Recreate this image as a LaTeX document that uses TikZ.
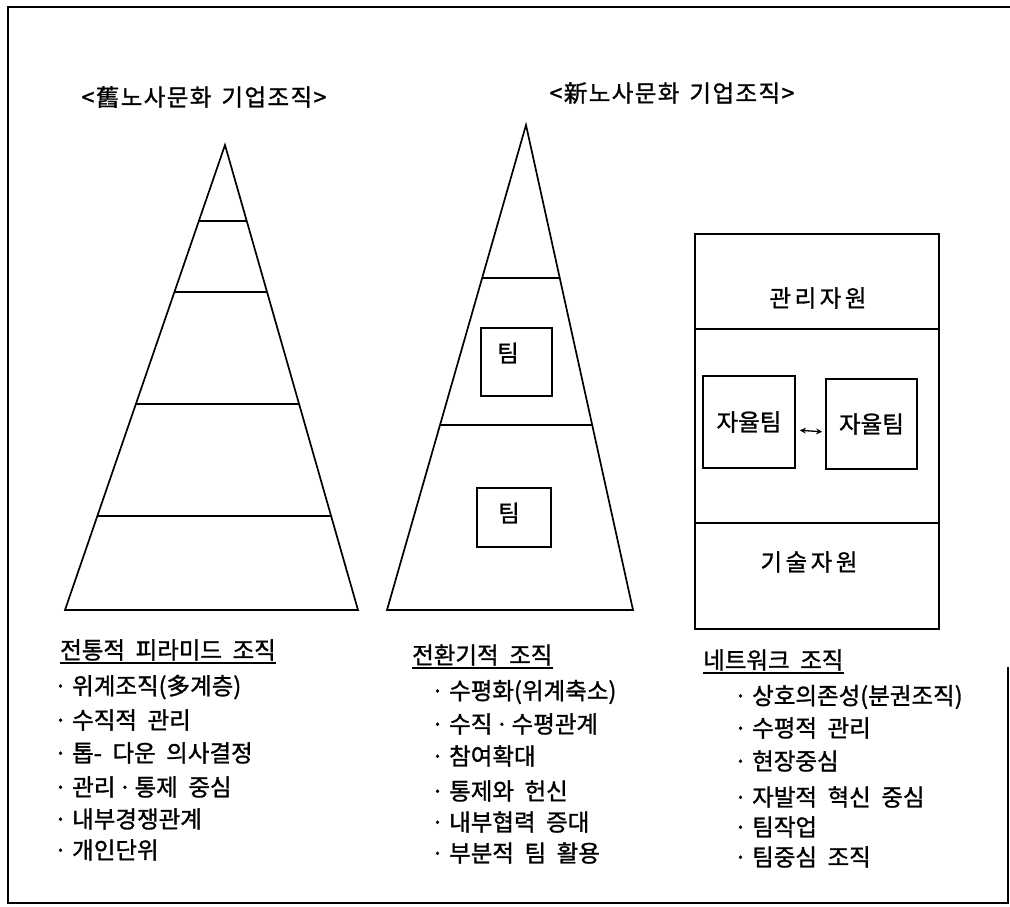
\documentclass[tikz,border=0pt]{standalone}
\usepackage{fontspec}
\setmainfont[WordSpace=2,FakeBold=1.2]{Noto Sans CJK KR}
\newfontfamily\widefont[LetterSpace=15,WordSpace=2,FakeBold=1.2]{Noto Sans CJK KR}
\newfontfamily\titlefont[LetterSpace=6,WordSpace=2,FakeBold=1.2]{Noto Sans CJK KR}
\usetikzlibrary{calc,arrows.meta}
\begin{document}
\begin{tikzpicture}[x=1pt,y=-1pt,
  every node/.style={inner sep=0pt, font=\fontsize{23.5}{27}\selectfont},
  pyr/.style={line width=1.7pt, line join=miter},
  tbox/.style={draw, line width=1.7pt},
  item/.style={anchor=west},
  uline/.style={line width=1.4pt}
]
\useasboundingbox (0,0) rectangle (1010,907);

% outer frame
\draw[line width=2.6pt] (1008,667) -- (1008,903) -- (8,903) -- (8,7) -- (1010,7);

% titles
\node (t1) at (204,97) {\titlefont <舊노사문화\hspace{10pt}기업조직>};
\node (t2) at (672,93) {\titlefont <新노사문화\hspace{10pt}기업조직>};

% pyramid 1
\coordinate (a1) at (225,145);
\coordinate (l1) at (65,610);
\coordinate (r1) at (358,610);
\draw[pyr] (a1) -- (l1) -- (r1) -- cycle;
\foreach \t in {0.1634,0.3161,0.557,0.7978}{
  \draw[pyr] ($(a1)!\t!(l1)$) -- ($(a1)!\t!(r1)$);
}

% pyramid 2
\coordinate (a2) at (526,125);
\coordinate (l2) at (387,610);
\coordinate (r2) at (633,610);
\draw[pyr] (a2) -- (l2) -- (r2) -- cycle;
\foreach \t in {0.3155,0.6186}{
  \draw[pyr] ($(a2)!\t!(l2)$) -- ($(a2)!\t!(r2)$);
}
\node[tbox, minimum width=71pt, minimum height=68pt] (pb1) at (516.5,362) {};
\node (pb1l) at (508,353) {팀};
\node[tbox, minimum width=74pt, minimum height=59pt] (pb2) at (514,517.5) {};
\node (pb2l) at (509,513) {팀};

% network box
\node[tbox, minimum width=244pt, minimum height=395pt, anchor=north west] (net) at (694,233) {};
\draw[tbox] ($(net.north west)+(0,96)$) coordinate (n1) -- (n1 -| net.east);
\draw[tbox] ($(net.north west)+(0,290)$) coordinate (n2) -- (n2 -| net.east);
\node (mg) at (818,298) {\widefont 관리자원};
\node (tc) at (809,562) {\widefont 기술자원};
\node[tbox, minimum width=92pt, minimum height=92pt] (at1) at (749,422) {\raisebox{-7pt}{자율팀}};
\node[tbox, minimum width=91pt, minimum height=90pt] (at2) at (871.5,424) {\raisebox{-6pt}{자율팀}};
\draw[{Stealth[length=6pt,width=6pt]}-{Stealth[length=6pt,width=6pt]}, line width=1.3pt, shorten <=4pt, shorten >=3pt]
  ([yshift=-8pt]at1.east) -- ([yshift=-8pt]at2.west);

% column 1
\node[item] (c1h) at (60,650) {전통적 피라미드 조직};
\draw[uline] ([yshift=-2pt]c1h.south west) -- ([yshift=-2pt]c1h.south east);
\node[item] (c1a) at (72,687) {\llap{·\hspace{5pt}}위계조직(多계층)};
\node[item] (c1b) at (72,720) {\llap{·\hspace{5pt}}수직적 관리};
\node[item] (c1c) at (72,753) {\llap{·\hspace{5pt}}톱- 다운 의사결정};
\node[item] (c1d) at (72,787) {\llap{·\hspace{5pt}}관리\hspace{3pt}·\hspace{3pt}통제 중심};
\node[item] (c1e) at (72,819) {\llap{·\hspace{5pt}}내부경쟁관계};
\node[item] (c1f) at (72,850) {\llap{·\hspace{5pt}}개인단위};

% column 2
\node[item] (c2h) at (412,655) {전환기적 조직};
\draw[uline] ([yshift=-2pt]c2h.south west) -- ([yshift=-2pt]c2h.south east);
\node[item] (c2a) at (449,692) {\llap{·\hspace{5pt}}수평화(위계축소)};
\node[item] (c2b) at (449,724) {\llap{·\hspace{5pt}}수직\hspace{3pt}·\hspace{3pt}수평관계};
\node[item] (c2c) at (449,756) {\llap{·\hspace{5pt}}참여확대};
\node[item] (c2d) at (449,791) {\llap{·\hspace{5pt}}통제와 헌신};
\node[item] (c2e) at (449,822) {\llap{·\hspace{5pt}}내부협력 증대};
\node[item] (c2f) at (449,853) {\llap{·\hspace{5pt}}부분적 팀 활용};

% column 3
\node[item] (c3h) at (703,660) {네트워크 조직};
\draw[uline] ([yshift=-2pt]c3h.south west) -- ([yshift=-2pt]c3h.south east);
\node[item] (c3a) at (752,697) {\llap{·\hspace{5pt}}상호의존성(분권조직)};
\node[item] (c3b) at (752,728) {\llap{·\hspace{5pt}}수평적 관리};
\node[item] (c3c) at (752,761) {\llap{·\hspace{5pt}}현장중심};
\node[item] (c3d) at (752,797) {\llap{·\hspace{5pt}}자발적 혁신 중심};
\node[item] (c3e) at (752,827) {\llap{·\hspace{5pt}}팀작업};
\node[item] (c3f) at (752,857) {\llap{·\hspace{5pt}}팀중심 조직};
\end{tikzpicture}
\end{document}
